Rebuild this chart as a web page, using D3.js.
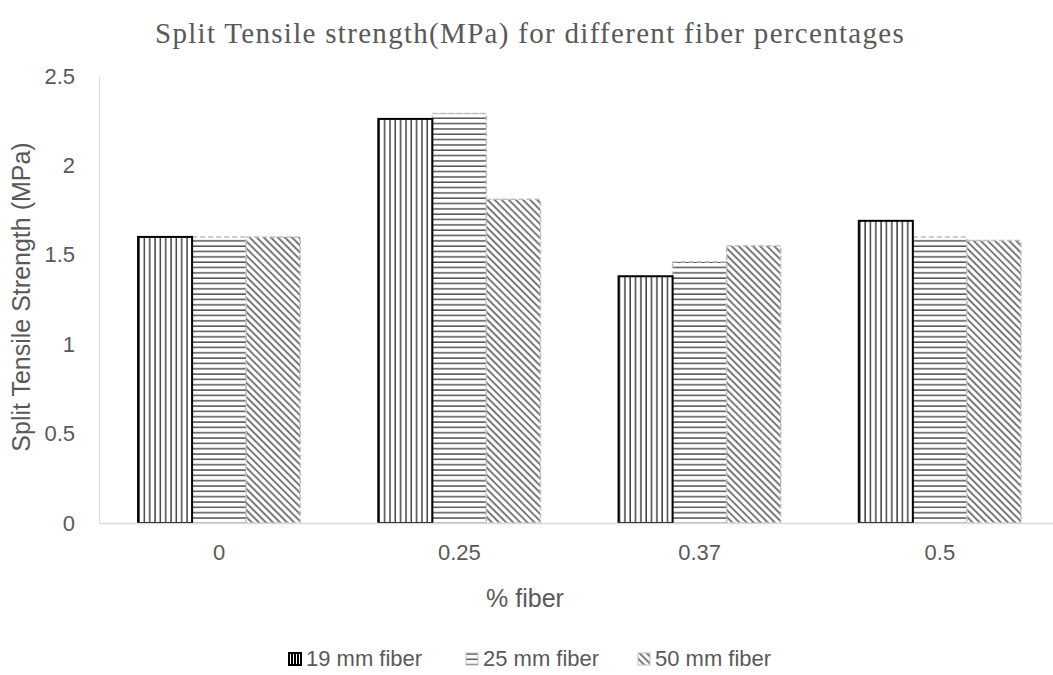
<!DOCTYPE html>
<html>
<head>
<meta charset="utf-8">
<script src="https://cdn.jsdelivr.net/npm/d3@7"></script>
<style>
  body { margin: 0; background: #fff; }
  text { fill: #595959; }
</style>
</head>
<body>
<div id="chart"></div>
<script>
// data
var categories = ["0", "0.25", "0.37", "0.5"];
var seriesNames = ["19 mm fiber", "25 mm fiber", "50 mm fiber"];
var fiber19 = [1.60, 2.26, 1.38, 1.69];
var fiber25 = [1.60, 2.29, 1.46, 1.60];
var fiber50 = [1.60, 1.81, 1.55, 1.58];
var yTicks = [0, 0.5, 1, 1.5, 2, 2.5];

var seriesValues = [fiber19, fiber25, fiber50];

var width = 1053, height = 675;
var margin = {top: 76, left: 99};
var plotRight = 1060;
var sans = "'Liberation Sans', Arial, sans-serif";

var svg = d3.select("#chart").append("svg")
  .attr("width", width)
  .attr("height", height);

// hatch patterns, like the excel fills
var defs = svg.append("defs");

var pv = defs.append("pattern").attr("id", "pat-vert")
  .attr("patternUnits", "userSpaceOnUse")
  .attr("width", 5.33).attr("height", 10);
pv.append("rect").attr("width", 5.33).attr("height", 10).attr("fill", "#fff");
pv.append("line").attr("x1", 1).attr("x2", 1).attr("y1", 0).attr("y2", 10)
  .attr("stroke", "#000").attr("stroke-width", 1.1);

var ph = defs.append("pattern").attr("id", "pat-horz")
  .attr("patternUnits", "userSpaceOnUse")
  .attr("width", 10).attr("height", 5.33);
ph.append("rect").attr("width", 10).attr("height", 5.33).attr("fill", "#fff");
ph.append("line").attr("x1", 0).attr("x2", 10).attr("y1", 1).attr("y2", 1)
  .attr("stroke", "#3a3a3a").attr("stroke-width", 1.3);

var pd = defs.append("pattern").attr("id", "pat-diag")
  .attr("patternUnits", "userSpaceOnUse")
  .attr("width", 5).attr("height", 5)
  .attr("patternTransform", "rotate(-45)");
pd.append("rect").attr("width", 5).attr("height", 5).attr("fill", "#fff");
pd.append("line").attr("x1", 1).attr("x2", 1).attr("y1", 0).attr("y2", 5)
  .attr("stroke", "#333").attr("stroke-width", 1.3);

// denser pattern for the small legend key of the 19 mm series
var pk = defs.append("pattern").attr("id", "pat-key")
  .attr("patternUnits", "userSpaceOnUse")
  .attr("width", 3).attr("height", 10);
pk.append("rect").attr("width", 3).attr("height", 10).attr("fill", "#000");
pk.append("line").attr("x1", 1.5).attr("x2", 1.5).attr("y1", 0).attr("y2", 10)
  .attr("stroke", "#fff").attr("stroke-width", 1);

var fills = ["url(#pat-vert)", "url(#pat-horz)", "url(#pat-diag)"];
var keyFills = ["url(#pat-key)", "url(#pat-horz)", "url(#pat-diag)"];
var strokes = ["#000", "#bfbfbf", "#bfbfbf"];
var strokeW = [2, 1.5, 1.5];
var dashes = [null, "5,3", "5,3"];

// scales
var x = d3.scaleBand()
  .domain(categories)
  .range([margin.left, plotRight])
  .paddingInner(0.325)
  .paddingOuter(0.1625);

var xSub = d3.scaleBand()
  .domain(d3.range(seriesNames.length))
  .range([0, x.bandwidth()]);

var y = d3.scaleLinear()
  .domain([0, 2.5])
  .range([523, margin.top]);

// title
svg.append("text")
  .attr("x", 530).attr("y", 43)
  .attr("text-anchor", "middle")
  .style("font-family", "'Liberation Serif', 'Times New Roman', serif")
  .style("font-size", "29px")
  .style("letter-spacing", "1.3px")
  .text("Split Tensile strength(MPa) for different fiber percentages");

// bars
var groups = svg.selectAll(".grp")
  .data(categories).enter()
  .append("g").attr("class", "grp")
  .attr("transform", function(d){ return "translate(" + x(d) + ",0)"; });

groups.selectAll("rect")
  .data(function(d, i){
    return seriesValues.map(function(s, j){ return {s: j, v: s[i]}; });
  }).enter()
  .append("rect")
  .attr("x", function(d){ return xSub(d.s); })
  .attr("y", function(d){ return y(d.v); })
  .attr("width", xSub.bandwidth())
  .attr("height", function(d){ return y(0) - y(d.v); })
  .attr("fill", function(d){ return fills[d.s]; })
  .attr("stroke", function(d){ return strokes[d.s]; })
  .attr("stroke-width", function(d){ return strokeW[d.s]; })
  .attr("stroke-dasharray", function(d){ return dashes[d.s]; });

// black outlined bars on top
groups.selectAll("rect").filter(function(d){ return d.s === 0; }).raise();

// axes
var yAxis = svg.append("g")
  .attr("transform", "translate(" + margin.left + ",0)")
  .call(d3.axisLeft(y).tickValues(yTicks).tickSize(0).tickPadding(24)
    .tickFormat(function(d){ return d; }));
yAxis.select(".domain").attr("stroke", "#d9d9d9").attr("stroke-width", 1);
yAxis.selectAll("text")
  .style("font-family", sans)
  .style("font-size", "22px")
  .attr("fill", "#595959");

var xAxis = svg.append("g")
  .attr("transform", "translate(0," + y(0) + ")")
  .call(d3.axisBottom(x).tickSize(0).tickPadding(21));
xAxis.select(".domain").attr("stroke", "#d9d9d9").attr("stroke-width", 1.5);
xAxis.selectAll("text")
  .style("font-family", sans)
  .style("font-size", "22px")
  .attr("fill", "#595959");

// axis titles
svg.append("text")
  .attr("transform", "translate(30,297) rotate(-90)")
  .attr("text-anchor", "middle")
  .style("font-family", sans)
  .style("font-size", "25px")
  .text("Split Tensile Strength (MPa)");

svg.append("text")
  .attr("x", 525).attr("y", 607)
  .attr("text-anchor", "middle")
  .style("font-family", sans)
  .style("font-size", "25px")
  .text("% fiber");

// legend
var legendX = [289, 466, 638];
var legend = svg.selectAll(".leg")
  .data(seriesNames).enter()
  .append("g").attr("class", "leg")
  .attr("transform", function(d, i){ return "translate(" + legendX[i] + ",653)"; });

legend.append("rect")
  .attr("width", 12).attr("height", 12)
  .attr("fill", function(d, i){ return keyFills[i]; })
  .attr("stroke", function(d, i){ return strokes[i]; })
  .attr("stroke-width", function(d, i){ return i === 0 ? 2 : 1; });

legend.append("text")
  .attr("x", 17).attr("y", 13)
  .style("font-family", sans)
  .style("font-size", "22px")
  .text(function(d){ return d; });
</script>
</body>
</html>
